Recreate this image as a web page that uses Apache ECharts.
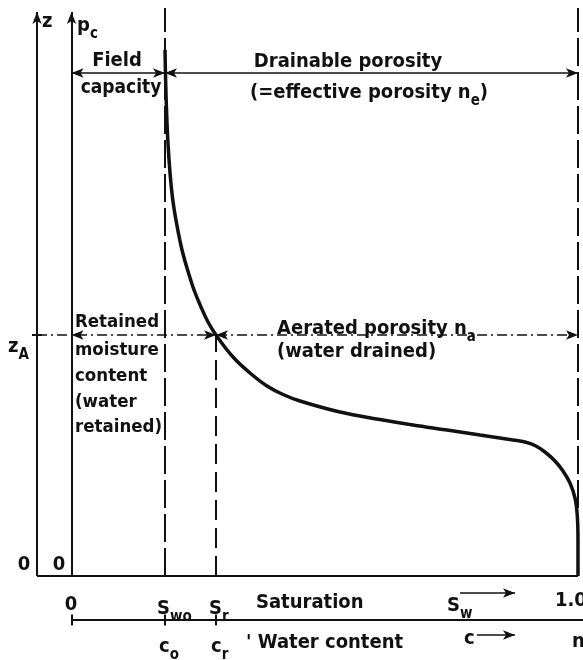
<!DOCTYPE html>
<html><head><meta charset="utf-8">
<script src="https://cdn.jsdelivr.net/npm/echarts@6/dist/echarts.min.js"></script>
<style>html,body{margin:0;padding:0;background:#fff}#c{width:583px;height:660px}</style>
</head><body><div id="c"></div>
<script>
// Capillary pressure / height above water table vs. water saturation
const saturation = [0.1846, 0.1858, 0.1874, 0.1901, 0.1945, 0.2000, 0.2073, 0.2182, 0.2310, 0.2419,
  0.2557, 0.2695, 0.2853, 0.3189, 0.3524, 0.3860, 0.4176, 0.4511, 0.5301, 0.6091, 0.6742,
  0.7414, 0.8065, 0.8717, 0.8954, 0.9151, 0.9348, 0.9546, 0.9704, 0.9842, 0.9941,
  0.9985, 1.0, 1.0];
const height = [0.9261, 0.8732, 0.8257, 0.7676, 0.7095, 0.6620, 0.6215, 0.5739, 0.5335, 0.5035,
  0.4736, 0.4472, 0.4243, 0.3856, 0.3574, 0.3345, 0.3195, 0.3081, 0.2887, 0.2755, 0.2658,
  0.2570, 0.2482, 0.2394, 0.2359, 0.2298, 0.2183, 0.2025, 0.1849, 0.1637, 0.1373,
  0.1074, 0.0634, 0.0];

// key saturation levels and heights
const S_WO = 0.1846;      // irreducible saturation (field capacity)
const S_R = 0.2853;       // saturation at height z_A
const S_FULL = 1.0;
const Z_A = 0.4243;
const Z_TOP = 1.0;
const Z_ARROW = 0.993;
const Z_FIELD = 0.8856;
const X_Z_AXIS = -0.0681;
const Y_WATER_AXIS = -0.0775;

const ink = '#111';
const font = '"DejaVu Sans Condensed", "DejaVu Sans", sans-serif';

function seg(x1, y1, x2, y2, style, s1, s2) {
  return [
    { coord: [x1, y1], symbol: s1 || 'none', symbolSize: [7, 12], lineStyle: style },
    { coord: [x2, y2], symbol: s2 || 'none', symbolSize: [7, 12] }
  ];
}
const solid = { color: ink, width: 2, type: 'solid' };
const thin = { color: ink, width: 1.6, type: 'solid' };
const longDash = { color: ink, width: 2, type: [28, 6] };
const midDash = { color: ink, width: 2, type: [20, 8] };
const dashDot = { color: ink, width: 1.6, type: [10, 4, 2, 4] };

const lines = [
  seg(X_Z_AXIS, 0, X_Z_AXIS, Z_ARROW, solid, 'none', 'arrow'),
  seg(0, 0, 0, Z_ARROW, solid, 'none', 'arrow'),
  seg(X_Z_AXIS, 0, S_FULL, 0, solid),
  seg(S_WO, 0, S_WO, Z_TOP, longDash),
  seg(S_R, 0, S_R, Z_A, midDash),
  seg(S_FULL, 0, S_FULL, Z_TOP, longDash),
  seg(0, Z_FIELD, S_WO, Z_FIELD, thin, 'arrow', 'arrow'),
  seg(S_WO, Z_FIELD, S_FULL, Z_FIELD, thin, 'arrow', 'arrow'),
  seg(X_Z_AXIS, Z_A, S_FULL, Z_A, dashDot),
  seg(0, Z_A, S_R, Z_A, { color: ink, width: 0.01 }, 'arrow', 'arrow'),
  seg(S_R, Z_A, S_FULL, Z_A, { color: ink, width: 0.01 }, 'arrow', 'arrow'),
  seg(-0.078, Z_A, -0.058, Z_A, solid),
  seg(0, Y_WATER_AXIS, 1.0099, Y_WATER_AXIS, solid),
  seg(0, -0.068, 0, -0.087, solid),
  seg(S_WO, -0.068, S_WO, -0.087, solid),
  seg(S_R, -0.068, S_R, -0.087, solid),
  seg(0.767, -0.030, 0.8756, -0.030, thin, 'none', 'arrow'),
  seg(0.8006, -0.1039, 0.8756, -0.1039, thin, 'none', 'arrow')
];

function richFor(size) {
  return {
    t: { fontFamily: font, fontWeight: 'bold', fontSize: size, lineHeight: 22, verticalAlign: 'middle' },
    s: { fontFamily: font, fontWeight: 'bold', fontSize: 15, lineHeight: 32, verticalAlign: 'bottom' }
  };
}

function txt(x, y, text, align, size) {
  const sz = size || 20;
  return {
    type: 'text', x: x, y: y, silent: true,
    style: { text: text, rich: richFor(sz), fill: ink, align: align || 'left', verticalAlign: 'middle',
      textAlign: align || 'left', textVerticalAlign: 'middle',
      fontFamily: font, fontWeight: 'bold', fontSize: sz }
  };
}

const texts = [
  txt(42, 22, '{t|z}'),
  txt(77, 26, '{t|p}{s|c}'),
  txt(117, 61, '{t|Field}', 'center'),
  txt(121, 88, '{t|capacity}', 'center', 19),
  txt(348, 62, '{t|Drainable porosity}', 'center'),
  txt(250, 93, '{t|(=effective porosity n}{s|e}{t|)}'),
  txt(75, 322, '{t|Retained}', 'left', 18.5),
  txt(75, 350, '{t|moisture}', 'left', 18.5),
  txt(75, 376, '{t|content}', 'left', 18.5),
  txt(75, 402, '{t|(water}', 'left', 18.5),
  txt(75, 427, '{t|retained)}', 'left', 18.5),
  txt(277, 329, '{t|Aerated porosity n}{s|a}'),
  txt(277, 352, '{t|(water drained)}'),
  txt(8, 347, '{t|z}{s|A}'),
  txt(24, 565, '{t|0}', 'center'),
  txt(59, 565, '{t|0}', 'center'),
  txt(71, 605, '{t|0}', 'center'),
  txt(157, 609, '{t|S}{s|wo}'),
  txt(209, 609, '{t|S}{s|r}'),
  txt(256, 603, '{t|Saturation}'),
  txt(447, 606, '{t|S}{s|w}'),
  txt(555, 601, '{t|1.0}'),
  txt(159, 647, '{t|c}{s|o}'),
  txt(211, 647, '{t|c}{s|r}'),
  txt(246, 643, "{t|' Water content}"),
  txt(464, 639, '{t|c}'),
  txt(572, 642, '{t|n}')
];

const chart = echarts.init(document.getElementById('c'), null, { renderer: 'canvas' });
chart.setOption({
  animation: false,
  backgroundColor: '#fff',
  grid: { left: 0, right: 0, top: 0, bottom: 0 },
  xAxis: { type: 'value', min: -0.1412, max: 1.0099, show: false },
  yAxis: { type: 'value', min: -0.1479, max: 1.0141, show: false },
  graphic: texts,
  series: [{
    type: 'line',
    data: saturation.map((s, i) => [s, height[i]]),
    smooth: 0.4,
    smoothMonotone: 'none',
    symbol: 'none',
    clip: false,
    lineStyle: { color: ink, width: 3.5 },
    silent: true,
    markLine: {
      silent: true,
      animation: false,
      label: { show: false },
      emphasis: { disabled: true },
      data: lines
    }
  }]
});
</script>
</body></html>
